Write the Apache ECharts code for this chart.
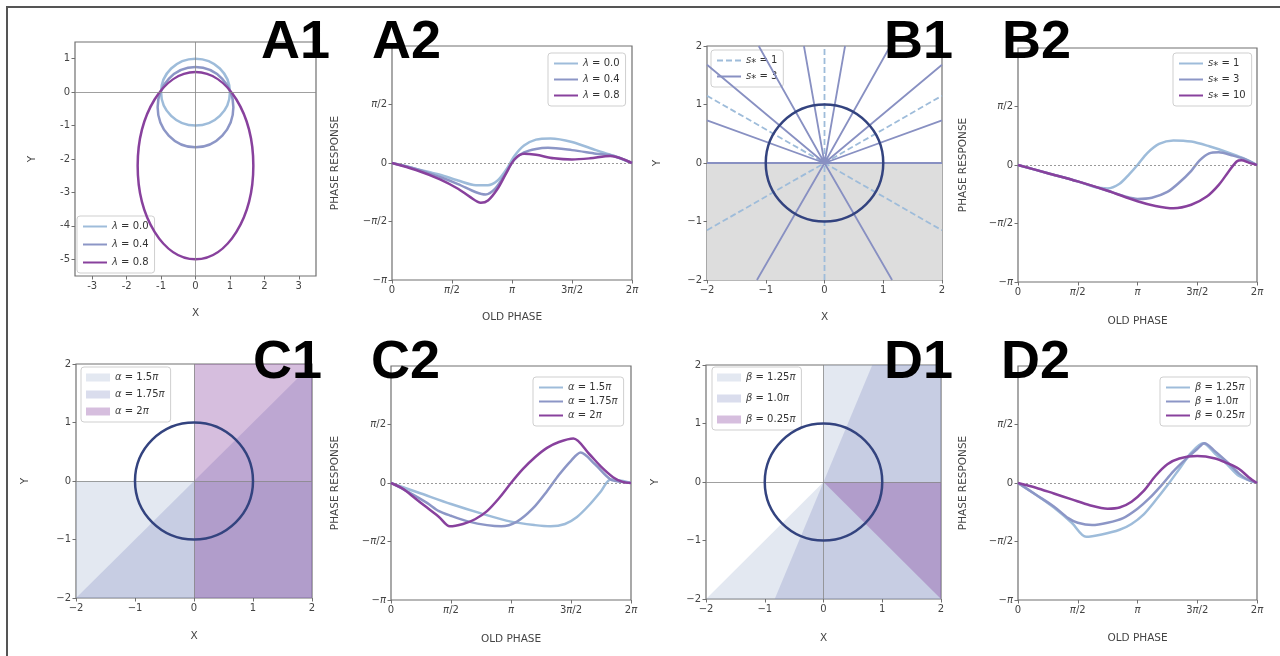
<!DOCTYPE html>
<html>
<head>
<meta charset="utf-8">
<script src="https://cdn.jsdelivr.net/npm/echarts@6/dist/echarts.min.js"></script>
<style>
  html, body { margin: 0; padding: 0; background: #fff; }
  #wrap { position: relative; width: 1280px; height: 656px; }
  #main { width: 1280px; height: 656px; }
  #frame { position: absolute; left: 6px; top: 6px; right: 0; bottom: 0;
           border-left: 2px solid #555; border-top: 2px solid #555; pointer-events: none; }
</style>
</head>
<body>
<div id="wrap"><div id="main"></div><div id="frame"></div></div>
<script>
var chart = echarts.init(document.getElementById("main"), null, { renderer: "canvas" });

// legend labels
var lambdaNames = ["λ = 0.0", "λ = 0.4", "λ = 0.8"];
var sNames = ["s⁎ = 1", "s⁎ = 3", "s⁎ = 10"];
var alphaNames = ["α = 1.5π", "α = 1.75π", "α = 2π"];
var betaNames = ["β = 1.25π", "β = 1.0π", "β = 0.25π"];
var panelLetters = ["A1", "A2", "B1", "B2", "C1", "C2", "D1", "D2"];

// tick values / labels
var a1TicksX = [-3, -2, -1, 0, 1, 2, 3];
var a1TicksY = [-5, -4, -3, -2, -1, 0, 1];
var phaseTicksX = ["0", "π/2", "π", "3π/2", "2π"];
var phaseTicksY = ["−π", "−π/2", "0", "π/2"];
var phaseTickValuesY = [-1, -0.5, 0, 0.5];

// A1: [centre x, centre y, half width, half height]
var a1Shapes = [[0, 0, 1.0, 1.0], [0, -0.45, 1.1, 1.2], [0, -2.2, 1.68, 2.8]];

// phase response curves, [old phase / pi, response / pi]
var a2Lam0 = [[0,0],[0.2,-0.05],[0.4,-0.1],[0.55,-0.15],[0.7,-0.19],[0.8,-0.19],[0.88,-0.15],[0.95,-0.06],[1.02,0.06],[1.1,0.15],[1.2,0.2],[1.32,0.21],[1.5,0.18],[1.7,0.11],[1.85,0.06],[2,0]];
var a2Lam4 = [[0,0],[0.2,-0.05],[0.4,-0.12],[0.55,-0.18],[0.7,-0.25],[0.78,-0.27],[0.86,-0.22],[0.94,-0.1],[1.02,0.03],[1.1,0.09],[1.2,0.12],[1.3,0.13],[1.5,0.11],[1.7,0.08],[1.85,0.06],[2,0]];
var a2Lam8 = [[0,0],[0.2,-0.06],[0.4,-0.14],[0.55,-0.22],[0.65,-0.29],[0.74,-0.34],[0.8,-0.32],[0.88,-0.22],[0.95,-0.09],[1.02,0.03],[1.1,0.08],[1.2,0.07],[1.35,0.04],[1.5,0.03],[1.65,0.04],[1.82,0.06],[2,0]];

var b2S1 = [[0,0],[0.25,-0.07],[0.5,-0.14],[0.65,-0.19],[0.75,-0.2],[0.85,-0.16],[0.93,-0.08],[1.0,0],[1.08,0.1],[1.18,0.18],[1.3,0.21],[1.45,0.2],[1.6,0.16],[1.75,0.11],[1.88,0.06],[2,0]];
var b2S3 = [[0,0],[0.25,-0.07],[0.5,-0.14],[0.75,-0.22],[0.9,-0.27],[1.0,-0.29],[1.12,-0.28],[1.25,-0.23],[1.35,-0.15],[1.45,-0.05],[1.52,0.04],[1.6,0.1],[1.68,0.11],[1.8,0.08],[1.9,0.05],[2,0]];
var b2S10 = [[0,0],[0.25,-0.07],[0.5,-0.14],[0.75,-0.22],[1.0,-0.31],[1.15,-0.35],[1.3,-0.37],[1.45,-0.34],[1.58,-0.27],[1.68,-0.17],[1.76,-0.06],[1.83,0.03],[1.87,0.04],[1.93,0.02],[2,0]];

var c2A15 = [[0,0],[0.25,-0.09],[0.5,-0.18],[0.75,-0.26],[1.0,-0.33],[1.2,-0.36],[1.33,-0.37],[1.45,-0.35],[1.55,-0.29],[1.65,-0.19],[1.75,-0.07],[1.83,0.03],[1.92,0.02],[2,0]];
var c2A175 = [[0,0],[0.15,-0.08],[0.3,-0.17],[0.4,-0.24],[0.5,-0.28],[0.65,-0.33],[0.8,-0.36],[0.92,-0.37],[1.05,-0.33],[1.18,-0.22],[1.3,-0.07],[1.4,0.07],[1.5,0.19],[1.58,0.26],[1.7,0.16],[1.83,0.03],[1.92,0.01],[2,0]];
var c2A2 = [[0,0],[0.1,-0.05],[0.2,-0.13],[0.3,-0.21],[0.4,-0.29],[0.49,-0.37],[0.6,-0.35],[0.7,-0.31],[0.8,-0.24],[0.9,-0.13],[1.0,0],[1.1,0.12],[1.2,0.22],[1.3,0.3],[1.4,0.35],[1.52,0.38],[1.65,0.25],[1.75,0.14],[1.85,0.05],[1.93,0.01],[2,0]];

var d2B125 = [[0,0],[0.15,-0.1],[0.3,-0.21],[0.45,-0.34],[0.57,-0.46],[0.7,-0.44],[0.85,-0.4],[0.95,-0.35],[1.05,-0.27],[1.15,-0.15],[1.25,-0.02],[1.35,0.12],[1.45,0.26],[1.55,0.34],[1.65,0.25],[1.75,0.16],[1.85,0.06],[2,0]];
var d2B10 = [[0,0],[0.15,-0.1],[0.3,-0.2],[0.42,-0.3],[0.5,-0.34],[0.62,-0.36],[0.75,-0.34],[0.88,-0.3],[1.0,-0.22],[1.1,-0.13],[1.2,-0.02],[1.3,0.1],[1.4,0.2],[1.5,0.29],[1.56,0.34],[1.65,0.27],[1.75,0.18],[1.85,0.08],[1.92,0.03],[2,0]];
var d2B025 = [[0,0],[0.15,-0.04],[0.3,-0.09],[0.45,-0.14],[0.6,-0.19],[0.75,-0.22],[0.85,-0.21],[0.95,-0.16],[1.05,-0.07],[1.15,0.06],[1.25,0.16],[1.35,0.21],[1.5,0.23],[1.65,0.21],[1.75,0.17],[1.85,0.12],[1.93,0.05],[2,0]];

// B1: shaded half plane, dashed rays (s=1) and solid ray end points (s=3)
var b1Shade = [[-2,0],[2,0],[2,-2],[-2,-2]];
var b1DashedRays = [[[-2,-1.15],[2,1.15]], [[-2,1.15],[2,-1.15]], [[0,-2],[0,2]]];
var b1SolidEnds = [[2,0],[2,0.73],[2,1.68],[1.12,2],[0.35,2],[-0.35,2],[-1.12,2],[-2,1.68],[-2,0.73],[-2,0],[-1.15,-2],[1.15,-2]];
var unitCircle = [[0, 0, 1, 1]];

// C1 / D1 shaded sectors (clipped to the plot box)
var c1Regions = [
  [[-2,0],[2,0],[2,-2],[-2,-2]],
  [[-2,-2],[2,2],[2,-2]],
  [[0,2],[2,2],[2,-2],[0,-2]]
];
var d1Regions = [
  [[0,0],[0,2],[2,2],[2,-2],[-2,-2]],
  [[-0.83,-2],[0.83,2],[2,2],[2,-2]],
  [[0,0],[2,0],[2,-2]]
];

var lineColors = ["#9ebcda", "#8c96c6", "#88419d"];
var fillColors = ["rgba(170,186,214,0.33)", "rgba(140,150,198,0.32)", "rgba(136,65,157,0.34)"];
var circleColor = "#33437f";
var axisColor = "#707070";
var textColor = "#444";
var fontFamily = "DejaVu Sans";
var richItalic = { i: { fontStyle: "italic", fontSize: 10, color: textColor, fontFamily: fontFamily } };

function italicPi(s) { return s.replace(/π/g, "{i|π}"); }
function minusSign(v) { return v < 0 ? "−" + Math.abs(v) : String(v); }

var grids = [
  { left: 75, top: 42, width: 241, height: 234 },
  { left: 392, top: 46, width: 240, height: 234 },
  { left: 707, top: 46, width: 235, height: 234 },
  { left: 1018, top: 48, width: 239, height: 234 },
  { left: 76, top: 364, width: 236, height: 234 },
  { left: 391, top: 366, width: 240, height: 234 },
  { left: 706, top: 365, width: 235, height: 234 },
  { left: 1018, top: 366, width: 239, height: 234 }
].map(function (g) {
  return Object.assign({ show: true, borderColor: axisColor, borderWidth: 1.2, backgroundColor: "transparent" }, g);
});

function baseAxis(gi, name, gap) {
  return {
    type: "value", gridIndex: gi, name: name, nameLocation: "middle", nameGap: gap,
    nameTextStyle: { fontSize: 10.5, color: textColor, fontFamily: fontFamily },
    axisLine: { show: false, onZero: false },
    axisTick: { show: true, length: 3.5, lineStyle: { color: axisColor, width: 1 } },
    splitLine: { show: false },
    axisLabel: { fontSize: 10, color: textColor, fontFamily: fontFamily, margin: 5, rich: richItalic }
  };
}
function squareAxis(gi, name, gap) {
  var a = baseAxis(gi, name, gap);
  a.min = -2; a.max = 2; a.interval = 1;
  a.axisLabel.formatter = minusSign;
  return a;
}
function phaseX(gi, gap) {
  var a = baseAxis(gi, "OLD PHASE", gap);
  a.min = 0; a.max = 2; a.interval = 0.5;
  a.axisLabel.formatter = function (v) { return italicPi(phaseTicksX[Math.round(v / 0.5)]); };
  return a;
}
function phaseY(gi, gap) {
  var a = baseAxis(gi, "PHASE RESPONSE", gap);
  a.min = -1; a.max = 1; a.interval = 0.5;
  a.axisTick.customValues = phaseTickValuesY;
  a.axisLabel.customValues = phaseTickValuesY;
  a.axisLabel.formatter = function (v) {
    var k = phaseTickValuesY.indexOf(v);
    return k < 0 ? "" : italicPi(phaseTicksY[k]);
  };
  return a;
}

var a1x = baseAxis(0, "X", 32);
a1x.min = -3.5; a1x.max = 3.5; a1x.minInterval = 1; a1x.maxInterval = 1;
a1x.axisTick.customValues = a1TicksX; a1x.axisLabel.customValues = a1TicksX;
var a1y = baseAxis(0, "Y", 37);
a1y.min = -5.5; a1y.max = 1.5; a1y.minInterval = 1; a1y.maxInterval = 1;
a1y.axisTick.customValues = a1TicksY; a1y.axisLabel.customValues = a1TicksY;

var xAxes = [a1x, phaseX(1, 32), squareAxis(2, "X", 32), phaseX(3, 34),
             squareAxis(4, "X", 33), phaseX(5, 34), squareAxis(6, "X", 34), phaseX(7, 33)];
var yAxes = [a1y, phaseY(1, 51), squareAxis(2, "Y", 44), phaseY(3, 49),
             squareAxis(4, "Y", 45), phaseY(5, 50), squareAxis(6, "Y", 45), phaseY(7, 49)];

function zeroLines(gi, marks, style) {
  return {
    type: "line", name: "zero" + gi, xAxisIndex: gi, yAxisIndex: gi, data: [], z: 2, silent: true,
    markLine: { silent: true, symbol: "none", label: { show: false }, animation: false,
                lineStyle: style, data: marks }
  };
}
function curveSeries(prefix, names, curves, gi) {
  return curves.map(function (c, k) {
    return {
      type: "line", name: prefix + "|" + names[k], xAxisIndex: gi, yAxisIndex: gi, data: c,
      symbol: "none", smooth: 0.3, z: 3 + k, silent: true,
      lineStyle: { color: lineColors[k], width: 2.5 }, itemStyle: { color: lineColors[k] }
    };
  });
}
function ellipseSeries(name, shapes, gi, colors, width, z) {
  return {
    type: "custom", name: name, xAxisIndex: gi, yAxisIndex: gi, data: shapes, z: z, silent: true,
    renderItem: function (params, api) {
      var c = api.coord([api.value(0), api.value(1)]);
      var s = api.size([api.value(2), api.value(3)]);
      return { type: "ellipse", shape: { cx: c[0], cy: c[1], rx: s[0], ry: s[1] },
               style: { fill: "none", stroke: colors[params.dataIndex], lineWidth: width } };
    }
  };
}
function regionSeries(name, pts, gi, fill, z) {
  return {
    type: "custom", name: name, xAxisIndex: gi, yAxisIndex: gi, data: pts, z: z, silent: true,
    itemStyle: { color: fill },
    renderItem: function (params, api) {
      if (params.dataIndex !== 0) return null;
      return { type: "polygon", shape: { points: pts.map(function (p) { return api.coord(p); }) },
               style: { fill: fill } };
    }
  };
}

var phaseZero = { color: "#999", type: [2, 2], width: 1 };
var crossStyle = { color: "#888", type: "solid", width: 0.8 };

var series = [];
// A1
series.push(zeroLines(0, [{ xAxis: 0 }, { yAxis: 0 }], crossStyle));
series.push(ellipseSeries("a1", a1Shapes, 0, lineColors, 2.5, 4));
// A2
series.push(zeroLines(1, [{ yAxis: 0 }], phaseZero));
series = series.concat(curveSeries("a2", lambdaNames, [a2Lam0, a2Lam4, a2Lam8], 1));
// B1
series.push(regionSeries("b1shade", b1Shade, 2, "#dddddd", 1));
b1DashedRays.forEach(function (r) {
  series.push({ type: "line", name: "b1|" + sNames[0], xAxisIndex: 2, yAxisIndex: 2, data: r,
    symbol: "none", z: 3, silent: true,
    lineStyle: { color: lineColors[0], width: 1.8, type: [6, 3] }, itemStyle: { color: lineColors[0] } });
});
var solidPath = [];
b1SolidEnds.forEach(function (e) { solidPath.push([0, 0], e); });
series.push({ type: "line", name: "b1|" + sNames[1], xAxisIndex: 2, yAxisIndex: 2, data: solidPath,
  symbol: "none", z: 4, silent: true,
  lineStyle: { color: "#8890c2", width: 1.8 }, itemStyle: { color: "#8890c2" } });
series.push(ellipseSeries("b1circle", unitCircle, 2, [circleColor], 2.5, 6));
// B2
series.push(zeroLines(3, [{ yAxis: 0 }], phaseZero));
series = series.concat(curveSeries("b2", sNames, [b2S1, b2S3, b2S10], 3));
// C1
c1Regions.forEach(function (r, k) { series.push(regionSeries("c1|" + alphaNames[k], r, 4, fillColors[k], 1)); });
series.push(zeroLines(4, [{ xAxis: 0 }, { yAxis: 0 }], crossStyle));
series.push(ellipseSeries("c1circle", unitCircle, 4, [circleColor], 2.5, 6));
// C2
series.push(zeroLines(5, [{ yAxis: 0 }], phaseZero));
series = series.concat(curveSeries("c2", alphaNames, [c2A15, c2A175, c2A2], 5));
// D1
d1Regions.forEach(function (r, k) { series.push(regionSeries("d1|" + betaNames[k], r, 6, fillColors[k], 1)); });
series.push(zeroLines(6, [{ xAxis: 0 }, { yAxis: 0 }], crossStyle));
series.push(ellipseSeries("d1circle", unitCircle, 6, [circleColor], 2.5, 6));
// D2
series.push(zeroLines(7, [{ yAxis: 0 }], phaseZero));
series = series.concat(curveSeries("d2", betaNames, [d2B125, d2B10, d2B025], 7));

function legendLabel(name) {
  return name.split("|")[1].replace(/([λαβπs])/g, "{i|$1}");
}
function legendAt(left, top, names, gap, patches) {
  var lg = {
    left: left, top: top, orient: "vertical", selectedMode: false,
    data: names.map(function (n, k) {
      return patches ? { name: n, icon: "rect", itemStyle: { color: patches[k], opacity: 1 } } : n;
    }),
    itemWidth: 24, itemHeight: patches ? 8 : 10, itemGap: gap,
    padding: [4, 6, 4, 5], backgroundColor: "rgba(255,255,255,0.85)",
    borderColor: "#cfcfcf", borderWidth: 1, borderRadius: 3,
    textStyle: { fontSize: 10, color: "#333", fontFamily: fontFamily, lineHeight: 13, rich: richItalic },
    formatter: legendLabel
  };
  // line legends: keep only the line sample, hide the marker
  if (!patches) lg.itemStyle = { opacity: 0 };
  return lg;
}
function pref(p, names) { return names.map(function (n) { return p + "|" + n; }); }

var legends = [
  legendAt(77, 216, pref("a2", lambdaNames), 5),
  legendAt(548, 53, pref("a2", lambdaNames), 3),
  legendAt(711, 50, pref("b1", sNames.slice(0, 2)), 3),
  legendAt(1173, 53, pref("b2", sNames), 3),
  legendAt(81, 367, pref("c1", alphaNames), 4, fillColors),
  legendAt(533, 377, pref("c2", alphaNames), 1),
  legendAt(712, 367, pref("d1", betaNames), 8, fillColors),
  legendAt(1160, 377, pref("d2", betaNames), 1)
];

var letterPos = [[261, 43], [372, 43], [884, 43], [1002, 43], [253, 363], [371, 363], [884, 363], [1001, 363]];
var letters = panelLetters.map(function (t, k) {
  return { type: "text", x: letterPos[k][0], y: letterPos[k][1], z: 100, silent: true,
           style: { text: t, font: 'bold 54px "Liberation Sans", Arial, sans-serif', fill: "#000",
                    textAlign: "left", textVerticalAlign: "middle" } };
});

chart.setOption({
  animation: false,
  backgroundColor: "#fff",
  grid: grids,
  xAxis: xAxes,
  yAxis: yAxes,
  legend: legends,
  series: series,
  graphic: letters
});
</script>
</body>
</html>
